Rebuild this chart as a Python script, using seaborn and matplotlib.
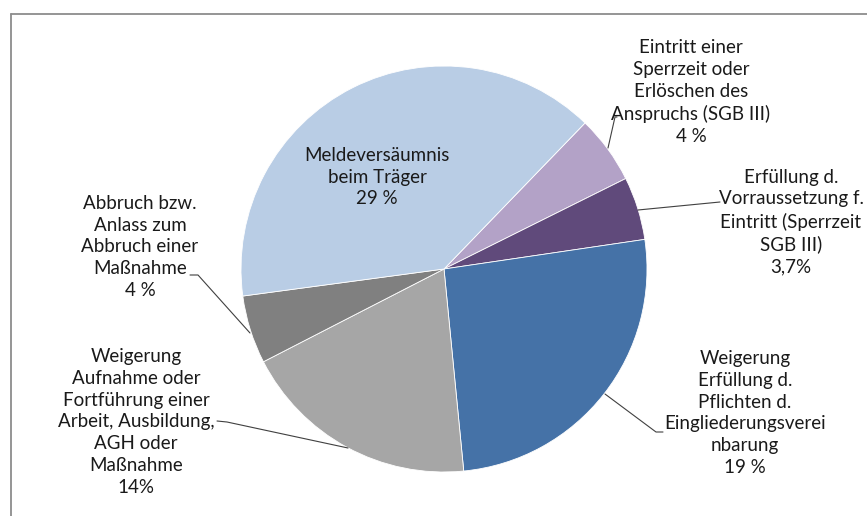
import matplotlib
matplotlib.use("Agg")
import matplotlib.pyplot as plt
import seaborn as sns

# ---- data ----
categories = [
    "Eintritt einer\nSperrzeit oder\nErlöschen des\nAnspruchs (SGB III)",
    "Erfüllung d.\nVorraussetzung f.\nEintritt (Sperrzeit\nSGB III)",
    "Weigerung\nErfüllung d.\nPflichten d.\nEingliederungsverei\nnbarung",
    "Weigerung\nAufnahme oder\nFortführung einer\nArbeit, Ausbildung,\nAGH oder\nMaßnahme",
    "Abbruch bzw.\nAnlass zum\nAbbruch einer\nMaßnahme",
    "Meldeversäumnis\nbeim Träger",
]
values = [4, 3.7, 19, 14, 4, 29]
value_labels = ["4 %", "3,7%", "19 %", "14%", "4 %", "29 %"]
colors = ["#B3A2C7", "#604A7B", "#4572A7", "#A6A6A6", "#808080", "#B9CDE5"]

# ---- layout (pixel coordinates, y from top) ----
W, H = 867, 516
center_px = (444, 269)
radius_px = 203
label_pos = [(691, 92), (791, 222), (745, 413), (136, 422), (140, 247), (377, 177)]
leaders = [
    [(608, 148), (615, 117), (617, 117)],
    [(638, 210), (720, 202)],
    [(605, 394), (656, 432), (663, 432)],
    [(348, 448), (227, 422), (217, 421)],
    [(250, 333), (198, 275), (190, 275)],
    None,
]

sns.set_theme(style="white")
plt.rcParams["font.family"] = ["Lato", "DejaVu Sans"]

fig = plt.figure(figsize=(W / 100, H / 100), dpi=100)
ax = fig.add_axes([0, 0, 1, 1])

ax.pie(values, colors=colors, startangle=46, counterclock=False,
       center=(center_px[0], H - center_px[1]), radius=radius_px,
       wedgeprops=dict(edgecolor="white", linewidth=0.6), frame=True)

ax.set_xlim(0, W)
ax.set_ylim(0, H)
ax.set_aspect("equal")
ax.axis("off")

# chart border (Excel-style frame)
ax.plot([10.5, 10.5], [H - 14, -10], color="#8C8C8C", lw=1.3, clip_on=False)
ax.plot([10.5, W + 10], [H - 14, H - 14], color="#8C8C8C", lw=1.3, clip_on=False)

for cat, vl, (x, y), ld in zip(categories, value_labels, label_pos, leaders):
    ax.text(x, H - y, f"{cat}\n{vl}", ha="center", va="center",
            fontsize=13.5, color="#1A1A1A", linespacing=1.34)
    if ld:
        xs = [p[0] for p in ld]
        ys = [H - p[1] for p in ld]
        ax.plot(xs, ys, color="#404040", lw=0.8)

fig.savefig("out.png", dpi=100)
